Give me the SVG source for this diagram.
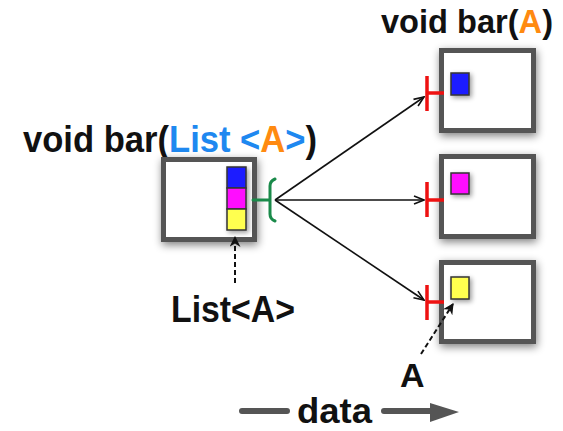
<svg xmlns="http://www.w3.org/2000/svg" width="563" height="431" viewBox="0 0 563 431">
<style>
.t{font-family:"Liberation Sans",Arial,sans-serif;font-weight:bold;fill:#111}
.box{fill:#fff;stroke:#555;stroke-width:5}
.sq{stroke:#333;stroke-width:1.5}
.edge{stroke:#111;stroke-width:1.6;fill:none}
.red{stroke:#ee1111;stroke-width:3.5;fill:none}
.grn{stroke:#1a8a4a;stroke-width:3;fill:none;stroke-linecap:round}
.dash{stroke:#111;stroke-width:2;stroke-dasharray:5 3;fill:none}
.blue{fill:#1e88f0}
.org{fill:#ff8a10}
</style>
<defs>
<filter id="sh" x="-20%" y="-20%" width="140%" height="140%">
<feGaussianBlur in="SourceAlpha" stdDeviation="4.5"/>
<feOffset dx="1" dy="3" result="b"/>
<feComponentTransfer><feFuncA type="linear" slope="0.5"/></feComponentTransfer>
<feMerge><feMergeNode/><feMergeNode in="SourceGraphic"/></feMerge>
</filter>
<filter id="sh2" x="-50%" y="-50%" width="200%" height="200%">
<feGaussianBlur in="SourceAlpha" stdDeviation="2.5"/>
<feOffset dx="2" dy="2" result="b"/>
<feComponentTransfer><feFuncA type="linear" slope="0.4"/></feComponentTransfer>
<feMerge><feMergeNode/><feMergeNode in="SourceGraphic"/></feMerge>
</filter>
<marker id="ah" viewBox="0 0 12 10" refX="11" refY="5" markerWidth="12" markerHeight="10" markerUnits="userSpaceOnUse" orient="auto">
<path d="M1,1 L11,5 L1,9" fill="none" stroke="#111" stroke-width="1.6"/>
</marker>
<marker id="ahf" viewBox="0 0 10 10" refX="9" refY="5" markerWidth="11" markerHeight="11" markerUnits="userSpaceOnUse" orient="auto">
<path d="M0,0 L10,5 L0,10 L3,5 Z" fill="#111"/>
</marker>
</defs>
<rect width="563" height="431" fill="#fff"/>

<g id="title-left">
<text class="t" x="23" y="152" font-size="36" textLength="294" lengthAdjust="spacingAndGlyphs">void bar(<tspan class="blue">List &lt;</tspan><tspan class="org">A</tspan><tspan class="blue">&gt;</tspan>)</text>
</g>
<g id="title-right">
<text class="t" x="381" y="33" font-size="33" textLength="172" lengthAdjust="spacingAndGlyphs">void bar(<tspan class="org">A</tspan>)</text>
</g>

<g id="node-left">
<rect class="box" x="163.5" y="159.5" width="91" height="80" filter="url(#sh)"/>
<g filter="url(#sh2)">
<rect class="sq" x="227" y="167" width="19" height="21" fill="#1f1fff"/>
<rect class="sq" x="227" y="188" width="19" height="21" fill="#ff10ff"/>
<rect class="sq" x="227" y="209" width="19" height="21" fill="#ffff50"/>
</g>
<path class="grn" d="M253,200 H270 M275,179 Q270,181 270,186 V214 Q270,219 275,221"/>
</g>

<g id="node-top">
<rect class="box" x="441.5" y="50.5" width="92" height="80" filter="url(#sh)"/>
<rect class="sq" x="451" y="73" width="18" height="22" fill="#1f1fff" filter="url(#sh2)"/>
<path class="red" d="M427,76 V111 M427,93 H444"/>
</g>

<g id="node-mid">
<rect class="box" x="441.5" y="156.5" width="92" height="80" filter="url(#sh)"/>
<rect class="sq" x="451" y="173" width="18" height="21" fill="#ff10ff" filter="url(#sh2)"/>
<path class="red" d="M427,182 V217 M427,200 H444"/>
</g>

<g id="node-bot">
<rect class="box" x="441.5" y="262.5" width="92" height="79" filter="url(#sh)"/>
<rect class="sq" x="451" y="277" width="18" height="22" fill="#ffff50" filter="url(#sh2)"/>
<path class="red" d="M427,285 V320 M427,302 H444"/>
</g>

<g id="label-list">
<text class="t" x="171" y="322" font-size="37" textLength="124" lengthAdjust="spacingAndGlyphs">List&lt;A&gt;</text>
</g>
<g id="label-a">
<text class="t" x="400" y="387" font-size="34">A</text>
</g>
<g id="label-data">
<text class="t" x="297" y="423" font-size="35" textLength="75" lengthAdjust="spacingAndGlyphs">data</text>
<path d="M242,411 H287 M384,411 H432" stroke="#555" stroke-width="6" stroke-linecap="round"/>
<path d="M430,403 L459,412 L430,422 Z" fill="#555"/>
</g>

<g id="connectors">
<path class="edge" d="M275,200 L424,97" marker-end="url(#ah)"/>
<path class="edge" d="M275,200 L424,200" marker-end="url(#ah)"/>
<path class="edge" d="M275,200 L424,300" marker-end="url(#ah)"/>
<path class="dash" d="M235,283 V237" marker-end="url(#ahf)"/>
<path class="dash" d="M421,354 L453,304" marker-end="url(#ahf)"/>
</g>
</svg>
